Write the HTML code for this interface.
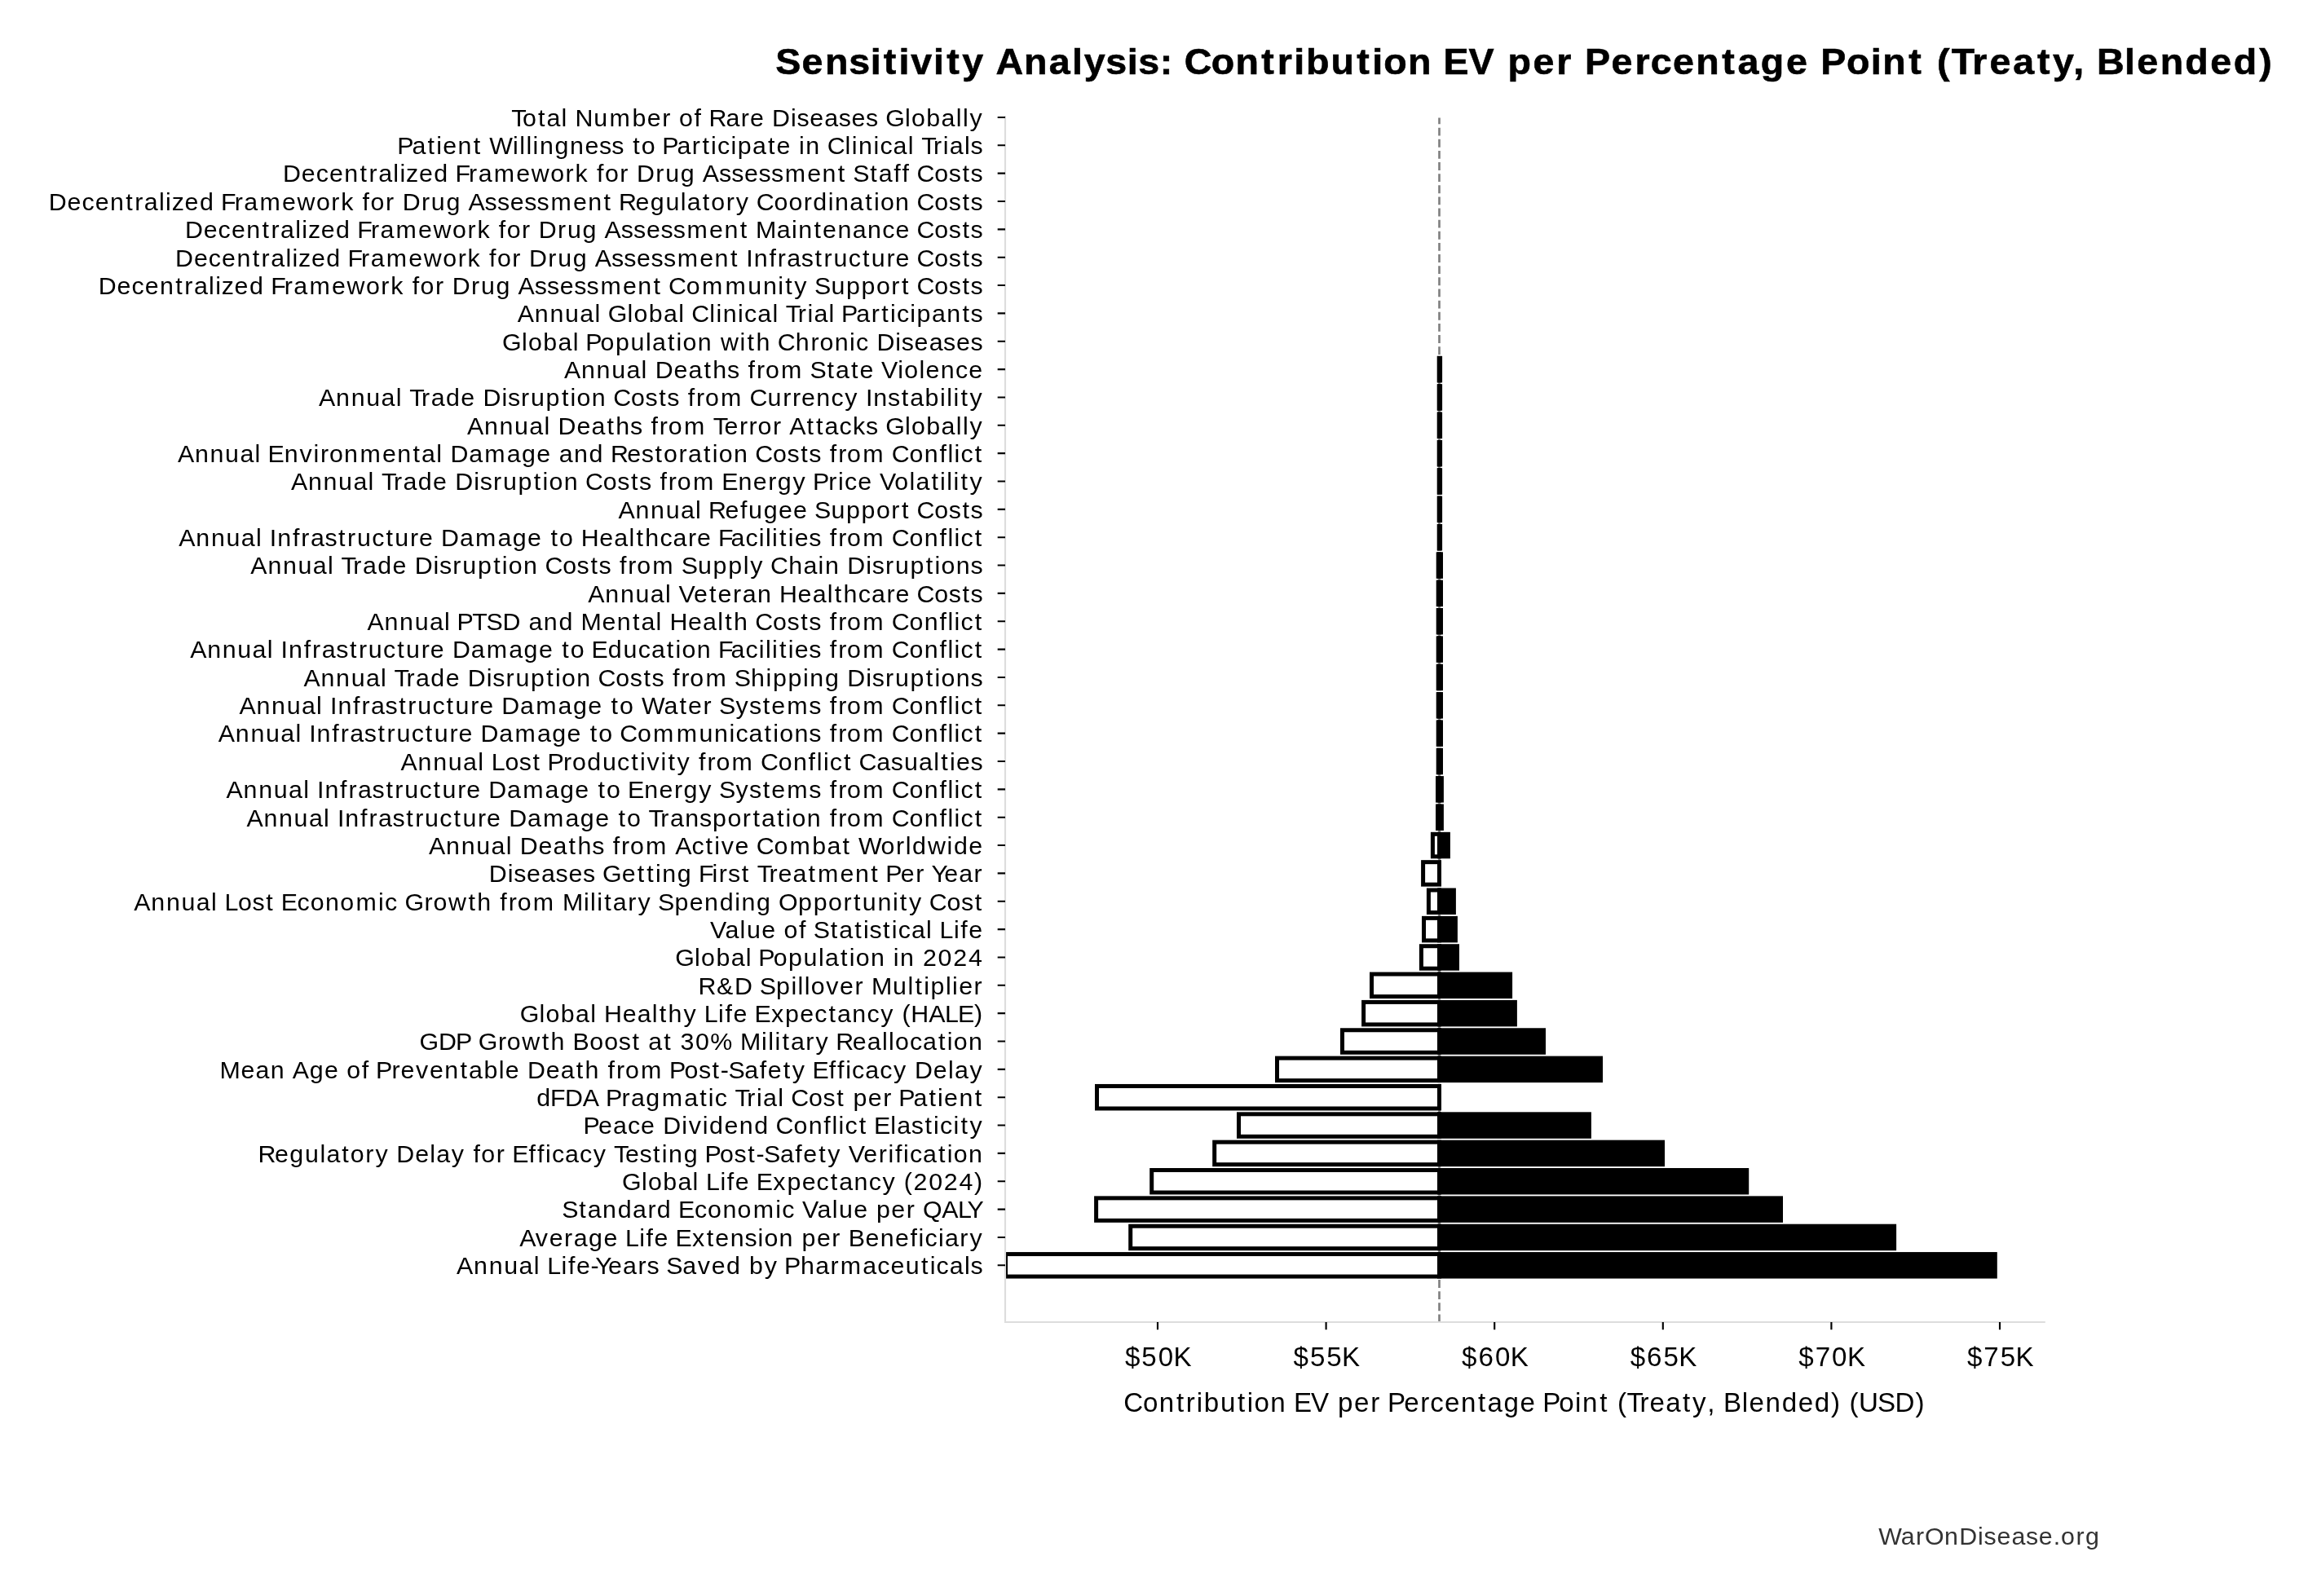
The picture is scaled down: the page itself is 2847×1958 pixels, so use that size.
<!DOCTYPE html>
<html><head><meta charset="utf-8"><title>Sensitivity Analysis</title>
<style>html,body{margin:0;padding:0;background:#fff;overflow:hidden}svg{display:block;will-change:transform}text{font-family:"Liberation Sans",sans-serif}</style></head><body>
<svg width="2847" height="1958" viewBox="0 0 2847 1958">
<rect width="2847" height="1958" fill="#fff"/>
<defs><clipPath id="ax"><rect x="1233.0" y="142.3" width="1275.80" height="1479.70"/></clipPath></defs>
<line x1="1765.5" y1="1622.3" x2="1765.5" y2="144.6" stroke="#808080" stroke-width="2.667" stroke-dasharray="9.867 4.267"/>
<g clip-path="url(#ax)">
<rect x="1765.20" y="439.36" width="0.30" height="27.48" fill="#fff" stroke="#000" stroke-width="5.0"/>
<rect x="1765.50" y="439.36" width="1.10" height="27.48" fill="#000" stroke="#000" stroke-width="5.0"/>
<rect x="1765.20" y="473.71" width="0.30" height="27.48" fill="#fff" stroke="#000" stroke-width="5.0"/>
<rect x="1765.50" y="473.71" width="1.10" height="27.48" fill="#000" stroke="#000" stroke-width="5.0"/>
<rect x="1765.20" y="508.06" width="0.30" height="27.48" fill="#fff" stroke="#000" stroke-width="5.0"/>
<rect x="1765.50" y="508.06" width="1.10" height="27.48" fill="#000" stroke="#000" stroke-width="5.0"/>
<rect x="1765.20" y="542.41" width="0.30" height="27.48" fill="#fff" stroke="#000" stroke-width="5.0"/>
<rect x="1765.50" y="542.41" width="1.10" height="27.48" fill="#000" stroke="#000" stroke-width="5.0"/>
<rect x="1765.20" y="576.76" width="0.30" height="27.48" fill="#fff" stroke="#000" stroke-width="5.0"/>
<rect x="1765.50" y="576.76" width="1.10" height="27.48" fill="#000" stroke="#000" stroke-width="5.0"/>
<rect x="1765.20" y="611.11" width="0.30" height="27.48" fill="#fff" stroke="#000" stroke-width="5.0"/>
<rect x="1765.50" y="611.11" width="1.10" height="27.48" fill="#000" stroke="#000" stroke-width="5.0"/>
<rect x="1765.20" y="645.46" width="0.30" height="27.48" fill="#fff" stroke="#000" stroke-width="5.0"/>
<rect x="1765.50" y="645.46" width="1.10" height="27.48" fill="#000" stroke="#000" stroke-width="5.0"/>
<rect x="1764.20" y="679.81" width="1.30" height="27.48" fill="#fff" stroke="#000" stroke-width="5.0"/>
<rect x="1765.50" y="679.81" width="2.00" height="27.48" fill="#000" stroke="#000" stroke-width="5.0"/>
<rect x="1764.20" y="714.16" width="1.30" height="27.48" fill="#fff" stroke="#000" stroke-width="5.0"/>
<rect x="1765.50" y="714.16" width="2.00" height="27.48" fill="#000" stroke="#000" stroke-width="5.0"/>
<rect x="1764.20" y="748.51" width="1.30" height="27.48" fill="#fff" stroke="#000" stroke-width="5.0"/>
<rect x="1765.50" y="748.51" width="2.00" height="27.48" fill="#000" stroke="#000" stroke-width="5.0"/>
<rect x="1764.20" y="782.86" width="1.30" height="27.48" fill="#fff" stroke="#000" stroke-width="5.0"/>
<rect x="1765.50" y="782.86" width="2.00" height="27.48" fill="#000" stroke="#000" stroke-width="5.0"/>
<rect x="1764.20" y="817.21" width="1.30" height="27.48" fill="#fff" stroke="#000" stroke-width="5.0"/>
<rect x="1765.50" y="817.21" width="2.00" height="27.48" fill="#000" stroke="#000" stroke-width="5.0"/>
<rect x="1764.20" y="851.56" width="1.30" height="27.48" fill="#fff" stroke="#000" stroke-width="5.0"/>
<rect x="1765.50" y="851.56" width="2.00" height="27.48" fill="#000" stroke="#000" stroke-width="5.0"/>
<rect x="1764.20" y="885.91" width="1.30" height="27.48" fill="#fff" stroke="#000" stroke-width="5.0"/>
<rect x="1765.50" y="885.91" width="2.00" height="27.48" fill="#000" stroke="#000" stroke-width="5.0"/>
<rect x="1764.20" y="920.26" width="1.30" height="27.48" fill="#fff" stroke="#000" stroke-width="5.0"/>
<rect x="1765.50" y="920.26" width="2.00" height="27.48" fill="#000" stroke="#000" stroke-width="5.0"/>
<rect x="1763.50" y="954.61" width="2.00" height="27.48" fill="#fff" stroke="#000" stroke-width="5.0"/>
<rect x="1765.50" y="954.61" width="2.90" height="27.48" fill="#000" stroke="#000" stroke-width="5.0"/>
<rect x="1763.50" y="988.96" width="2.00" height="27.48" fill="#fff" stroke="#000" stroke-width="5.0"/>
<rect x="1765.50" y="988.96" width="2.90" height="27.48" fill="#000" stroke="#000" stroke-width="5.0"/>
<rect x="1757.40" y="1023.31" width="8.10" height="27.48" fill="#fff" stroke="#000" stroke-width="5.0"/>
<rect x="1765.50" y="1023.31" width="10.90" height="27.48" fill="#000" stroke="#000" stroke-width="5.0"/>
<rect x="1745.60" y="1057.66" width="19.90" height="27.48" fill="#fff" stroke="#000" stroke-width="5.0"/>
<rect x="1752.40" y="1092.01" width="13.10" height="27.48" fill="#fff" stroke="#000" stroke-width="5.0"/>
<rect x="1765.50" y="1092.01" width="17.90" height="27.48" fill="#000" stroke="#000" stroke-width="5.0"/>
<rect x="1746.50" y="1126.36" width="19.00" height="27.48" fill="#fff" stroke="#000" stroke-width="5.0"/>
<rect x="1765.50" y="1126.36" width="19.90" height="27.48" fill="#000" stroke="#000" stroke-width="5.0"/>
<rect x="1743.40" y="1160.71" width="22.10" height="27.48" fill="#fff" stroke="#000" stroke-width="5.0"/>
<rect x="1765.50" y="1160.71" width="22.00" height="27.48" fill="#000" stroke="#000" stroke-width="5.0"/>
<rect x="1682.50" y="1195.06" width="83.00" height="27.48" fill="#fff" stroke="#000" stroke-width="5.0"/>
<rect x="1765.50" y="1195.06" width="87.10" height="27.48" fill="#000" stroke="#000" stroke-width="5.0"/>
<rect x="1672.60" y="1229.41" width="92.90" height="27.48" fill="#fff" stroke="#000" stroke-width="5.0"/>
<rect x="1765.50" y="1229.41" width="92.90" height="27.48" fill="#000" stroke="#000" stroke-width="5.0"/>
<rect x="1646.50" y="1263.76" width="119.00" height="27.48" fill="#fff" stroke="#000" stroke-width="5.0"/>
<rect x="1765.50" y="1263.76" width="128.00" height="27.48" fill="#000" stroke="#000" stroke-width="5.0"/>
<rect x="1566.50" y="1298.11" width="199.00" height="27.48" fill="#fff" stroke="#000" stroke-width="5.0"/>
<rect x="1765.50" y="1298.11" width="198.00" height="27.48" fill="#000" stroke="#000" stroke-width="5.0"/>
<rect x="1345.50" y="1332.46" width="420.00" height="27.48" fill="#fff" stroke="#000" stroke-width="5.0"/>
<rect x="1519.50" y="1366.81" width="246.00" height="27.48" fill="#fff" stroke="#000" stroke-width="5.0"/>
<rect x="1765.50" y="1366.81" width="183.90" height="27.48" fill="#000" stroke="#000" stroke-width="5.0"/>
<rect x="1489.70" y="1401.16" width="275.80" height="27.48" fill="#fff" stroke="#000" stroke-width="5.0"/>
<rect x="1765.50" y="1401.16" width="274.00" height="27.48" fill="#000" stroke="#000" stroke-width="5.0"/>
<rect x="1412.70" y="1435.51" width="352.80" height="27.48" fill="#fff" stroke="#000" stroke-width="5.0"/>
<rect x="1765.50" y="1435.51" width="377.20" height="27.48" fill="#000" stroke="#000" stroke-width="5.0"/>
<rect x="1344.60" y="1469.86" width="420.90" height="27.48" fill="#fff" stroke="#000" stroke-width="5.0"/>
<rect x="1765.50" y="1469.86" width="419.00" height="27.48" fill="#000" stroke="#000" stroke-width="5.0"/>
<rect x="1386.70" y="1504.21" width="378.80" height="27.48" fill="#fff" stroke="#000" stroke-width="5.0"/>
<rect x="1765.50" y="1504.21" width="558.10" height="27.48" fill="#000" stroke="#000" stroke-width="5.0"/>
<rect x="1233.50" y="1538.56" width="532.00" height="27.48" fill="#fff" stroke="#000" stroke-width="5.0"/>
<rect x="1765.50" y="1538.56" width="681.80" height="27.48" fill="#000" stroke="#000" stroke-width="5.0"/>
</g>
<line x1="1233.0" y1="142.3" x2="1233.0" y2="1623.0" stroke="#dddddd" stroke-width="2.13"/>
<line x1="1232.0" y1="1622.0" x2="2508.8" y2="1622.0" stroke="#dddddd" stroke-width="2.13"/>
<path d="M1223.67 143.95H1233.00M1223.67 178.30H1233.00M1223.67 212.65H1233.00M1223.67 247.00H1233.00M1223.67 281.35H1233.00M1223.67 315.70H1233.00M1223.67 350.05H1233.00M1223.67 384.40H1233.00M1223.67 418.75H1233.00M1223.67 453.10H1233.00M1223.67 487.45H1233.00M1223.67 521.80H1233.00M1223.67 556.15H1233.00M1223.67 590.50H1233.00M1223.67 624.85H1233.00M1223.67 659.20H1233.00M1223.67 693.55H1233.00M1223.67 727.90H1233.00M1223.67 762.25H1233.00M1223.67 796.60H1233.00M1223.67 830.95H1233.00M1223.67 865.30H1233.00M1223.67 899.65H1233.00M1223.67 934.00H1233.00M1223.67 968.35H1233.00M1223.67 1002.70H1233.00M1223.67 1037.05H1233.00M1223.67 1071.40H1233.00M1223.67 1105.75H1233.00M1223.67 1140.10H1233.00M1223.67 1174.45H1233.00M1223.67 1208.80H1233.00M1223.67 1243.15H1233.00M1223.67 1277.50H1233.00M1223.67 1311.85H1233.00M1223.67 1346.20H1233.00M1223.67 1380.55H1233.00M1223.67 1414.90H1233.00M1223.67 1449.25H1233.00M1223.67 1483.60H1233.00M1223.67 1517.95H1233.00M1223.67 1552.30H1233.00M1420.00 1622.00V1631.33M1626.60 1622.00V1631.33M1833.20 1622.00V1631.33M2039.80 1622.00V1631.33M2246.40 1622.00V1631.33M2453.00 1622.00V1631.33" stroke="#000" stroke-width="2.13" fill="none"/>
<text x="627.3 641.1 660.0 670.5 688.6 696.5 705.4 728.2 747.6 775.4 793.7 812.2 823.7 833.1 851.5 861.3 869.4 890.4 908.8 919.9 937.8 947.0 969.9 977.4 993.2 1011.3 1028.7 1044.5 1062.1 1077.7 1086.2 1110.1 1118.0 1136.3 1154.6 1172.7 1180.9 1189.4" y="154.75" font-size="30.36">Total Number of Rare Diseases Globally</text>
<text x="487.3 505.5 524.5 535.2 543.2 561.5 580.8 591.2 600.2 629.1 637.3 645.4 653.6 661.9 680.5 699.1 717.4 734.9 750.2 765.9 776.3 786.8 804.6 812.2 830.4 848.8 861.5 872.1 880.1 896.4 904.7 923.0 942.0 952.5 970.4 980.0 988.3 1006.5 1014.7 1036.6 1044.7 1053.0 1071.5 1079.4 1095.6 1113.7 1121.6 1130.2 1145.1 1156.8 1164.8 1183.0 1190.5" y="189.10" font-size="30.36">Patient Willingness to Participate in Clinical Trials</text>
<text x="347.0 369.8 387.8 404.0 422.3 441.6 452.6 464.2 482.3 490.5 498.0 513.9 532.2 550.4 558.5 575.0 586.7 605.7 633.2 651.7 675.2 693.6 705.6 722.1 732.0 741.9 760.3 771.8 781.0 804.2 816.2 834.8 853.0 861.8 882.0 897.2 913.1 930.6 945.9 962.7 990.2 1008.6 1027.8 1038.3 1046.3 1067.3 1077.8 1096.2 1106.5 1116.3 1124.5 1146.2 1163.7 1180.4 1190.5" y="223.45" font-size="30.36">Decentralized Framework for Drug Assessment Staff Costs</text>
<text x="59.7 82.5 100.5 116.7 135.0 154.3 165.2 176.8 195.0 203.1 210.7 226.6 244.9 263.1 271.1 287.7 299.3 318.4 345.9 364.4 387.9 406.3 418.3 434.8 444.6 454.5 472.9 484.5 493.7 516.9 528.8 547.4 565.6 574.4 594.6 609.9 625.7 643.2 658.5 675.4 702.9 721.2 740.5 750.9 759.0 779.4 797.8 816.4 834.8 842.8 861.8 872.3 890.7 902.8 919.6 927.7 949.4 967.4 985.8 997.2 1015.7 1024.0 1042.3 1061.2 1071.9 1079.9 1098.1 1116.3 1124.5 1146.2 1163.7 1180.4 1190.5" y="257.80" font-size="30.36">Decentralized Framework for Drug Assessment Regulatory Coordination Costs</text>
<text x="226.9 249.7 267.6 283.9 302.2 321.5 332.4 344.0 362.2 370.3 377.9 393.7 412.1 430.3 438.3 454.9 466.5 485.6 513.1 531.6 555.1 573.5 585.4 602.0 611.8 621.7 640.1 651.6 660.8 684.1 696.0 714.6 732.8 741.6 761.8 777.1 792.9 810.4 825.7 842.6 870.1 888.4 907.7 918.1 927.0 952.8 971.0 979.3 998.5 1009.1 1027.4 1045.7 1064.0 1082.2 1098.4 1116.3 1124.5 1146.2 1163.7 1180.4 1190.5" y="292.15" font-size="30.36">Decentralized Framework for Drug Assessment Maintenance Costs</text>
<text x="215.1 237.9 255.8 272.1 290.4 309.7 320.6 332.2 350.4 358.5 366.1 381.9 400.3 418.5 426.5 443.1 454.7 473.8 501.3 519.8 543.3 561.7 573.6 590.2 600.0 609.9 628.3 639.8 649.0 672.3 684.2 702.8 721.0 729.8 750.0 765.3 781.1 798.6 813.9 830.8 858.3 876.6 895.9 906.3 915.3 924.7 943.4 953.7 965.3 982.8 999.6 1010.5 1022.5 1040.7 1057.9 1068.7 1087.4 1098.4 1116.3 1124.5 1146.2 1163.7 1180.4 1190.5" y="326.50" font-size="30.36">Decentralized Framework for Drug Assessment Infrastructure Costs</text>
<text x="120.7 143.5 161.5 177.7 196.0 215.3 226.2 237.9 256.0 264.2 271.7 287.6 305.9 324.1 332.2 348.7 360.3 379.4 406.9 425.4 448.9 467.3 479.3 495.8 505.7 515.6 534.0 545.5 554.7 577.9 589.9 608.5 626.7 635.5 655.7 670.9 686.8 704.3 719.6 736.4 763.9 782.3 801.5 811.9 820.1 841.8 860.9 889.5 917.3 935.9 954.3 963.3 974.3 991.0 999.1 1019.4 1038.0 1056.6 1074.9 1093.3 1105.9 1116.3 1124.5 1146.2 1163.7 1180.4 1190.5" y="360.85" font-size="30.36">Decentralized Framework for Drug Assessment Community Support Costs</text>
<text x="634.8 655.8 674.4 693.0 711.2 729.4 737.3 745.7 769.6 777.6 795.8 814.1 832.3 840.2 848.3 870.2 878.4 886.7 905.1 913.0 929.2 947.4 955.3 963.8 978.7 990.5 998.5 1016.6 1024.5 1032.1 1050.3 1068.7 1081.3 1092.0 1099.9 1116.3 1124.6 1142.9 1161.2 1180.4 1190.5" y="395.20" font-size="30.36">Annual Global Clinical Trial Participants</text>
<text x="616.1 640.0 648.0 666.3 684.6 702.7 710.6 718.2 736.6 754.9 773.5 791.9 799.9 818.9 829.6 837.5 855.8 874.0 883.9 907.6 916.6 927.4 945.6 953.7 975.8 994.5 1005.4 1023.7 1042.1 1050.1 1066.2 1075.4 1098.3 1105.8 1121.6 1139.7 1157.1 1173.0 1190.5" y="429.55" font-size="30.36">Global Population with Chronic Diseases</text>
<text x="692.0 713.0 731.6 750.2 768.5 786.6 794.5 803.7 826.6 844.6 863.5 874.3 892.1 907.8 917.6 928.0 939.0 958.0 985.4 993.5 1014.4 1024.9 1043.9 1054.4 1072.4 1081.1 1101.3 1109.3 1127.4 1135.5 1153.8 1172.0 1188.2" y="463.90" font-size="30.36">Annual Deaths from State Violence</text>
<text x="391.1 412.1 430.7 449.3 467.6 485.7 493.6 502.2 517.1 528.7 547.0 565.3 583.2 592.4 615.4 622.9 639.1 651.0 669.6 688.9 699.6 707.6 725.8 744.0 752.2 773.9 791.4 808.2 818.2 833.8 843.7 854.0 865.0 884.0 911.4 919.6 941.6 960.3 971.9 982.9 1001.2 1019.4 1036.2 1052.9 1061.9 1071.3 1089.1 1105.8 1116.3 1134.6 1153.1 1161.2 1169.4 1178.4 1189.4" y="498.25" font-size="30.36">Annual Trade Disruption Costs from Currency Instability</text>
<text x="572.9 593.9 612.5 631.0 649.3 667.5 675.4 684.6 707.4 725.4 744.4 755.2 773.0 788.7 798.5 808.8 819.8 838.9 866.2 874.8 888.6 907.1 918.6 929.6 948.0 959.5 968.3 989.5 1001.0 1011.5 1029.4 1045.9 1062.1 1077.7 1086.2 1110.1 1118.0 1136.3 1154.6 1172.7 1180.9 1189.4" y="532.60" font-size="30.36">Annual Deaths from Terror Attacks Globally</text>
<text x="217.9 238.9 257.5 276.1 294.4 312.5 320.4 328.4 348.7 367.5 384.5 392.9 403.9 422.1 441.5 469.0 487.3 506.6 517.1 535.3 543.2 552.4 575.2 594.2 621.7 640.0 658.3 676.3 685.7 704.0 722.6 740.8 748.9 769.3 786.8 803.6 814.1 832.5 844.1 863.1 873.7 881.7 900.0 918.2 926.3 948.0 965.5 982.3 992.3 1008.0 1017.8 1028.2 1039.1 1058.2 1085.5 1093.7 1115.4 1133.7 1152.4 1162.5 1170.6 1178.5 1195.7" y="566.95" font-size="30.36">Annual Environmental Damage and Restoration Costs from Conflict</text>
<text x="356.9 377.9 396.5 415.1 433.4 451.5 459.4 468.0 482.9 494.5 512.8 531.1 549.0 558.3 581.2 588.7 604.9 616.9 635.5 654.7 665.4 673.4 691.7 709.8 718.0 739.7 757.2 774.0 784.0 799.7 809.5 819.8 830.8 849.9 877.2 885.3 905.5 923.8 942.3 953.7 972.5 989.3 996.9 1016.3 1028.1 1036.0 1052.2 1070.1 1078.9 1097.3 1115.5 1123.5 1142.4 1153.1 1161.2 1169.4 1178.4 1189.4" y="601.30" font-size="30.36">Annual Trade Disruption Costs from Energy Price Volatility</text>
<text x="758.5 779.5 798.1 816.7 835.0 853.1 861.0 869.1 889.5 907.9 918.1 936.8 955.1 973.1 991.0 999.1 1019.4 1038.0 1056.6 1074.9 1093.3 1105.9 1116.3 1124.5 1146.2 1163.7 1180.4 1190.5" y="635.65" font-size="30.36">Annual Refugee Support Costs</text>
<text x="219.3 240.3 258.9 277.5 295.8 313.9 321.8 330.8 340.2 358.9 369.2 380.9 398.4 415.1 426.1 438.0 456.2 473.4 484.2 502.9 513.9 531.9 541.1 563.9 582.9 610.4 628.7 647.0 665.0 675.4 685.9 703.7 712.7 735.2 753.3 771.4 780.4 791.2 809.4 825.6 844.0 855.0 872.9 881.0 896.5 914.4 930.8 939.0 947.1 956.1 966.8 974.8 992.3 1008.0 1017.8 1028.2 1039.1 1058.2 1085.5 1093.7 1115.4 1133.7 1152.4 1162.5 1170.6 1178.5 1195.7" y="670.00" font-size="30.36">Annual Infrastructure Damage to Healthcare Facilities from Conflict</text>
<text x="307.3 328.4 347.0 365.5 383.8 402.0 409.9 418.4 433.3 444.9 463.2 481.6 499.5 508.7 531.6 539.1 555.3 567.3 585.9 605.2 615.8 623.8 642.1 660.3 668.4 690.2 707.6 724.4 734.4 750.1 759.9 770.3 781.2 800.3 827.7 835.7 856.0 874.6 893.2 911.7 920.2 936.9 945.1 967.2 985.4 1003.6 1011.9 1030.1 1039.3 1062.2 1069.7 1085.9 1097.9 1116.5 1135.8 1146.4 1154.4 1172.7 1190.5" y="704.35" font-size="30.36">Annual Trade Disruption Costs from Supply Chain Disruptions</text>
<text x="721.3 742.3 760.9 779.5 797.8 815.9 823.8 832.6 851.0 870.0 880.6 899.0 910.7 928.9 947.1 956.1 978.6 996.7 1014.8 1023.8 1034.6 1052.8 1069.0 1087.4 1098.4 1116.3 1124.5 1146.2 1163.7 1180.4 1190.5" y="738.70" font-size="30.36">Annual Veteran Healthcare Costs</text>
<text x="450.5 471.5 490.1 508.7 526.9 545.1 553.0 560.6 579.2 596.6 616.4 639.1 648.5 666.8 685.4 703.6 712.5 738.4 756.7 776.0 786.5 804.6 812.5 821.5 844.0 862.0 880.2 889.2 900.0 918.2 926.3 948.0 965.5 982.3 992.3 1008.0 1017.8 1028.2 1039.1 1058.2 1085.5 1093.7 1115.4 1133.7 1152.4 1162.5 1170.6 1178.5 1195.7" y="773.05" font-size="30.36">Annual PTSD and Mental Health Costs from Conflict</text>
<text x="233.2 254.2 272.8 291.3 309.6 327.8 335.7 344.6 354.0 372.7 383.1 394.7 412.2 429.0 439.9 451.8 470.0 487.2 498.1 516.8 527.8 545.7 554.9 577.7 596.8 624.2 642.5 660.9 678.8 689.2 699.7 717.6 725.6 745.8 764.4 782.7 798.9 817.8 828.5 836.5 854.7 872.9 881.0 896.5 914.4 930.8 939.0 947.1 956.1 966.8 974.8 992.3 1008.0 1017.8 1028.2 1039.1 1058.2 1085.5 1093.7 1115.4 1133.7 1152.4 1162.5 1170.6 1178.5 1195.7" y="807.40" font-size="30.36">Annual Infrastructure Damage to Education Facilities from Conflict</text>
<text x="372.5 393.5 412.1 430.7 448.9 467.1 475.0 483.5 498.4 510.0 528.3 546.7 564.6 573.8 596.7 604.2 620.5 632.4 651.0 670.3 681.0 688.9 707.2 725.4 733.5 755.3 772.7 789.5 799.5 815.2 825.0 835.4 846.3 865.4 892.8 900.8 921.1 939.6 947.9 966.5 985.0 993.3 1011.9 1030.1 1039.3 1062.2 1069.7 1085.9 1097.9 1116.5 1135.8 1146.4 1154.4 1172.7 1190.5" y="841.75" font-size="30.36">Annual Trade Disruption Costs from Shipping Disruptions</text>
<text x="293.5 314.5 333.1 351.7 370.0 388.1 396.0 405.0 414.4 433.1 443.5 455.1 472.6 489.3 500.3 512.2 530.4 547.6 558.4 577.2 588.2 606.1 615.3 638.1 657.2 684.6 702.9 721.3 739.2 749.6 760.1 777.9 787.0 814.5 833.5 844.0 862.5 874.0 882.0 902.6 918.9 935.7 946.2 965.3 992.3 1008.0 1017.8 1028.2 1039.1 1058.2 1085.5 1093.7 1115.4 1133.7 1152.4 1162.5 1170.6 1178.5 1195.7" y="876.10" font-size="30.36">Annual Infrastructure Damage to Water Systems from Conflict</text>
<text x="267.8 288.8 307.4 326.0 344.2 362.4 370.3 379.2 388.6 407.3 417.7 429.3 446.8 463.6 474.5 486.4 504.7 521.8 532.7 551.4 562.4 580.3 589.5 612.3 631.4 658.9 677.2 695.5 713.4 723.8 734.3 752.2 760.3 782.1 801.1 829.7 857.5 876.1 894.5 902.4 918.6 937.6 948.3 956.2 974.5 992.3 1008.0 1017.8 1028.2 1039.1 1058.2 1085.5 1093.7 1115.4 1133.7 1152.4 1162.5 1170.6 1178.5 1195.7" y="910.45" font-size="30.36">Annual Infrastructure Damage to Communications from Conflict</text>
<text x="491.6 512.6 531.2 549.8 568.1 586.2 594.1 602.7 619.4 636.8 653.6 664.0 671.6 691.0 702.0 720.3 738.9 757.1 774.3 785.0 793.5 810.5 819.4 830.5 847.2 857.0 867.4 878.4 897.4 924.8 932.9 954.7 972.9 991.6 1001.7 1009.9 1017.8 1035.0 1045.4 1053.5 1075.3 1092.8 1108.9 1127.1 1145.3 1154.3 1164.9 1173.0 1190.5" y="944.80" font-size="30.36">Annual Lost Productivity from Conflict Casualties</text>
<text x="277.6 298.6 317.2 335.7 354.0 372.2 380.1 389.0 398.4 417.1 427.5 439.1 456.6 473.4 484.3 496.2 514.4 531.6 542.5 561.2 572.2 590.1 599.3 622.1 641.2 668.6 686.9 705.3 723.2 733.6 744.1 762.0 770.0 790.2 808.5 827.0 838.4 857.3 874.0 882.0 902.6 918.9 935.7 946.2 965.3 992.3 1008.0 1017.8 1028.2 1039.1 1058.2 1085.5 1093.7 1115.4 1133.7 1152.4 1162.5 1170.6 1178.5 1195.7" y="979.15" font-size="30.36">Annual Infrastructure Damage to Energy Systems from Conflict</text>
<text x="302.5 323.5 342.1 360.6 378.9 397.1 405.0 413.9 423.3 442.0 452.4 464.0 481.5 498.3 509.2 521.1 539.3 556.5 567.4 586.1 597.1 615.0 624.2 647.0 666.1 693.5 711.8 730.2 748.1 758.5 769.0 786.9 795.4 810.3 821.9 840.2 858.0 874.1 892.4 910.8 923.4 933.9 952.9 963.5 971.5 989.8 1008.0 1017.8 1028.2 1039.1 1058.2 1085.5 1093.7 1115.4 1133.7 1152.4 1162.5 1170.6 1178.5 1195.7" y="1013.50" font-size="30.36">Annual Infrastructure Damage to Transportation from Conflict</text>
<text x="526.1 547.1 565.7 584.3 602.6 620.7 628.6 637.8 660.6 678.6 697.6 708.4 726.2 741.9 751.7 762.1 773.0 792.1 819.5 828.3 848.4 865.6 876.2 884.8 901.6 919.5 927.7 949.4 968.5 996.3 1014.6 1033.5 1044.0 1053.0 1080.6 1099.0 1110.8 1119.1 1137.9 1161.6 1169.9 1188.2" y="1047.85" font-size="30.36">Annual Deaths from Active Combat Worldwide</text>
<text x="599.8 622.8 630.3 646.1 664.1 681.6 697.4 714.9 730.6 739.0 762.8 781.8 793.3 803.9 812.2 830.8 849.0 857.1 873.4 881.8 892.9 909.7 920.1 928.7 943.5 954.6 972.6 991.5 1003.1 1030.6 1049.0 1068.2 1078.7 1086.2 1104.7 1123.2 1134.7 1142.4 1158.2 1176.2 1194.6" y="1082.20" font-size="30.36">Diseases Getting First Treatment Per Year</text>
<text x="164.3 185.3 203.9 222.5 240.8 258.9 266.8 275.4 292.1 309.5 326.3 336.7 344.7 364.6 380.8 399.1 417.3 436.4 464.0 471.9 488.0 496.5 520.6 531.6 550.0 574.5 585.3 603.5 613.3 623.7 634.7 653.7 681.1 690.0 716.0 724.1 732.3 741.3 751.8 770.2 782.4 799.1 807.1 827.4 845.8 864.1 882.7 901.2 909.5 928.1 946.3 954.9 979.1 997.7 1016.0 1034.4 1047.0 1057.8 1076.4 1094.9 1103.8 1114.9 1131.6 1139.8 1161.5 1179.0 1195.7" y="1116.55" font-size="30.36">Annual Lost Economic Growth from Military Spending Opportunity Cost</text>
<text x="871.0 889.4 907.6 915.9 934.2 952.1 961.5 979.9 989.7 997.8 1018.7 1029.2 1048.2 1058.9 1066.4 1083.1 1093.8 1101.7 1117.9 1136.1 1144.0 1152.6 1169.9 1178.3 1188.2" y="1150.90" font-size="30.36">Value of Statistical Life</text>
<text x="828.2 852.1 860.1 878.4 896.7 914.8 922.7 930.3 948.7 967.0 985.6 1004.0 1012.0 1031.0 1041.7 1049.7 1067.9 1086.1 1095.7 1104.0 1122.2 1131.9 1150.6 1169.3 1187.9" y="1185.25" font-size="30.36">Global Population in 2024</text>
<text x="856.6 879.1 901.0 923.7 931.7 952.0 970.5 978.6 986.8 994.8 1013.3 1030.1 1048.6 1060.1 1069.0 1095.1 1113.6 1122.6 1133.2 1141.5 1160.0 1168.1 1176.2 1194.6" y="1219.60" font-size="30.36">R&amp;D Spillover Multiplier</text>
<text x="637.7 661.6 669.6 687.8 706.1 724.3 732.2 741.1 763.7 781.7 799.8 808.8 819.6 838.5 855.2 863.8 881.1 889.5 899.5 917.4 925.4 945.9 963.0 981.3 999.3 1016.5 1027.0 1045.3 1063.5 1080.2 1096.9 1106.5 1117.3 1139.2 1159.1 1174.9 1194.9" y="1253.95" font-size="30.36">Global Healthy Life Expectancy (HALE)</text>
<text x="514.4 537.9 558.9 578.3 586.7 610.9 621.8 640.3 664.8 675.6 693.8 702.6 723.3 741.3 758.7 775.5 785.9 795.3 814.3 824.7 834.5 853.1 871.3 899.2 908.1 934.1 942.3 950.4 959.4 969.9 988.3 1000.5 1017.2 1025.3 1045.7 1063.7 1081.9 1090.0 1098.0 1115.9 1132.1 1151.0 1161.7 1169.7 1188.0" y="1288.30" font-size="30.36">GDP Growth Boost at 30% Military Reallocation</text>
<text x="269.5 295.4 313.4 331.7 349.9 358.7 379.7 398.0 415.9 425.3 443.7 453.5 461.1 480.6 491.6 510.1 527.0 545.3 564.6 575.1 593.4 611.8 619.8 637.8 647.0 669.8 687.8 706.8 717.6 735.8 745.6 756.0 766.9 786.0 813.4 821.0 839.4 856.9 873.6 883.8 893.4 913.3 931.7 941.7 960.7 971.7 988.5 996.5 1016.8 1027.1 1037.2 1045.1 1061.3 1079.2 1096.0 1112.7 1121.9 1144.7 1162.9 1170.9 1189.4" y="1322.65" font-size="30.36">Mean Age of Preventable Death from Post-Safety Efficacy Delay</text>
<text x="658.2 675.1 693.1 714.8 735.4 743.0 762.4 774.0 792.3 811.7 839.2 858.2 868.8 876.8 892.8 901.4 916.3 928.1 936.1 954.2 962.1 970.3 992.0 1009.5 1026.2 1036.6 1046.4 1064.7 1083.2 1094.7 1102.3 1120.5 1139.4 1150.1 1158.1 1176.5 1195.7" y="1357.00" font-size="30.36">dFDA Pragmatic Trial Cost per Patient</text>
<text x="715.5 734.0 752.0 769.9 786.1 804.0 813.3 836.2 844.7 861.7 870.0 888.4 906.7 925.3 943.5 951.6 973.4 991.7 1010.3 1020.4 1028.6 1036.5 1053.7 1064.1 1072.1 1092.2 1100.2 1117.7 1134.4 1145.1 1153.0 1169.4 1178.4 1189.4" y="1391.35" font-size="30.36">Peace Dividend Conflict Elasticity</text>
<text x="316.6 337.0 355.3 373.9 392.4 400.4 419.3 429.8 448.2 460.4 477.1 486.3 509.2 527.3 535.3 553.8 570.6 580.4 590.3 608.7 620.2 628.2 648.6 658.9 669.0 676.9 693.1 711.0 727.7 744.5 753.0 766.9 784.4 801.1 811.8 820.1 838.7 856.9 864.5 882.9 900.4 917.2 927.4 936.9 956.9 975.3 985.2 1004.2 1015.3 1032.0 1040.8 1059.3 1077.7 1089.5 1097.9 1108.0 1115.9 1132.1 1151.0 1161.7 1169.7 1188.0" y="1425.70" font-size="30.36">Regulatory Delay for Efficacy Testing Post-Safety Verification</text>
<text x="763.1 786.9 794.9 813.2 831.5 849.6 857.5 866.1 883.4 891.8 901.8 919.7 927.7 948.2 965.4 983.7 1001.6 1018.8 1029.3 1047.6 1065.8 1082.6 1099.3 1108.8 1120.5 1139.2 1157.8 1176.5 1194.9" y="1460.05" font-size="30.36">Global Life Expectancy (2024)</text>
<text x="689.3 710.3 720.8 739.1 757.7 776.0 794.4 805.8 824.0 832.1 851.9 868.1 886.4 904.6 923.7 951.3 959.3 975.4 984.1 1002.6 1020.7 1029.0 1047.3 1065.2 1075.0 1093.3 1111.8 1123.3 1131.9 1155.2 1175.1 1186.6" y="1494.40" font-size="30.36">Standard Economic Value per QALY</text>
<text x="637.3 656.8 673.7 692.1 703.8 722.1 740.4 758.3 766.9 784.2 792.6 802.6 820.5 828.5 849.0 866.8 877.3 895.7 913.4 929.4 937.4 955.6 973.8 983.6 1001.9 1020.3 1031.9 1040.7 1061.4 1079.8 1098.1 1116.5 1126.6 1134.5 1150.9 1158.9 1177.3 1189.4" y="1528.75" font-size="30.36">Average Life Extension per Beneficiary</text>
<text x="560.1 581.1 599.7 618.3 636.6 654.7 662.6 671.2 688.5 696.9 706.9 724.6 730.3 746.0 764.1 782.5 793.6 809.3 817.3 837.3 855.8 872.7 891.0 909.2 919.0 937.8 954.5 962.1 981.9 1000.2 1018.6 1030.8 1058.3 1076.2 1092.5 1110.8 1130.0 1140.7 1148.6 1164.8 1183.0 1190.5" y="1563.10" font-size="30.36">Annual Life-Years Saved by Pharmaceuticals</text>
<text x="1379.9 1400.3 1420.7 1439.5" y="1675.70" font-size="33.12">$50K</text>
<text x="1586.5 1606.9 1627.3 1646.1" y="1675.70" font-size="33.12">$55K</text>
<text x="1793.1 1813.5 1833.9 1852.7" y="1675.70" font-size="33.12">$60K</text>
<text x="1999.7 2020.1 2040.5 2059.3" y="1675.70" font-size="33.12">$65K</text>
<text x="2206.3 2226.7 2247.1 2265.9" y="1675.70" font-size="33.12">$70K</text>
<text x="2412.9 2433.3 2453.7 2472.5" y="1675.70" font-size="33.12">$75K</text>
<text x="1378.2 1401.9 1421.8 1442.9 1454.8 1467.7 1476.7 1497.0 1518.1 1529.7 1538.4 1558.3 1578.2 1586.9 1608.0 1630.4 1641.1 1661.1 1681.2 1693.8 1702.1 1722.2 1742.3 1754.2 1771.9 1791.9 1813.0 1824.4 1844.4 1864.4 1883.9 1892.2 1912.3 1932.1 1941.1 1962.2 1973.5 1983.9 1995.4 2011.6 2023.6 2043.2 2063.9 2076.0 2094.2 2104.4 2114.0 2136.8 2145.6 2165.5 2185.8 2205.8 2225.8 2245.9 2258.2 2268.6 2280.1 2302.9 2324.4 2349.5" y="1731.80" font-size="33.12">Contribution EV per Percentage Point (Treaty, Blended) (USD)</text>
<text x="914.6 945.8 973.0 1001.1 1026.6 1042.2 1060.2 1074.4 1101.0 1116.6 1134.8 1161.6 1174.6 1207.6 1237.3 1264.4 1278.5 1304.1 1329.6 1342.6 1368.0 1384.6 1396.8 1428.5 1457.2 1487.8 1506.5 1526.1 1540.4 1569.7 1600.3 1618.4 1632.0 1660.7 1689.9 1702.4 1732.3 1764.0 1778.4 1808.2 1835.9 1855.7 1869.2 1900.6 1928.4 1946.9 1973.0 2000.2 2030.9 2049.5 2076.8 2106.7 2133.9 2147.4 2177.8 2206.4 2220.5 2251.2 2269.4 2284.6 2301.8 2326.3 2346.6 2374.4 2403.0 2421.2 2445.4 2460.4 2473.2 2505.8 2520.5 2547.8 2577.1 2606.9 2634.3 2664.6" y="90.80" font-size="44.80" transform="scale(1.0400,1)" font-weight="bold" stroke="#000" stroke-width="0.6">Sensitivity Analysis: Contribution EV per Percentage Point (Treaty, Blended)</text>
<text x="2304.2 2331.7 2350.1 2360.9 2385.1 2403.2 2426.1 2433.6 2449.4 2467.5 2484.9 2500.8 2518.7 2528.1 2546.5 2557.9" y="1895.00" font-size="30.36" fill="#333333">WarOnDisease.org</text>
</svg></body></html>
